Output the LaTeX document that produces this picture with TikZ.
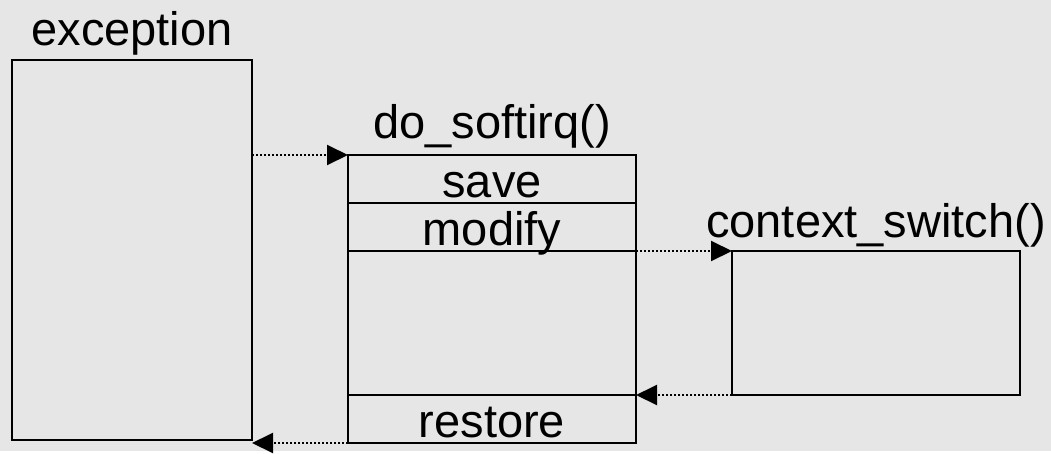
\documentclass[tikz,border=0pt]{standalone}
\usepackage{fontspec}
\setmainfont{Liberation Sans}
\usetikzlibrary{positioning,arrows.meta}
\definecolor{bggray}{RGB}{230,230,230}
\begin{document}
\begin{tikzpicture}[x=1pt,y=-1pt,
    font=\fontsize{47}{50}\selectfont,
    frame/.style={draw,line width=2pt,inner sep=0pt,outer sep=0pt},
    row/.style={frame,minimum width=288pt,text height=42pt,text depth=6pt},
    title/.style={inner sep=0pt,anchor=base},
    call/.style={dotted,line width=2pt,-{Triangle[length=21pt,width=20pt]}}]
    \fill[bggray] (0,0) rectangle (1051,451);
    % exception frame
    \node[frame,minimum width=240pt,minimum height=380pt,anchor=north west] (exc) at (12,60) {};
    \node[title] (exclabel) at ([yshift=15pt]exc.north) {exception};
    % do_softirq() frame
    \node[row,anchor=north west] (save) at (348,155) {save};
    \node[row,below=0pt of save] (modify) {modify};
    \node[frame,minimum width=288pt,minimum height=144pt,below=0pt of modify] (body) {};
    \node[row,below=0pt of body] (restore) {restore};
    \node[title] (softlabel) at ([yshift=17pt]save.north) {do\_softirq()};
    % context_switch() frame
    \node[frame,minimum width=288pt,minimum height=144pt,anchor=north west] (ctx) at (732,251) {};
    \node[title] (ctxlabel) at ([yshift=14pt]ctx.north) {context\_switch()};
    % calls and returns
    \draw[call] (save.north west -| exc.east) -- (save.north west);
    \draw[call] (modify.south east) -- (ctx.north west);
    \draw[call] (ctx.south west) -- (body.south east);
    \draw[call] (restore.south west) -- (restore.south west -| exc.east);
\end{tikzpicture}
\end{document}
